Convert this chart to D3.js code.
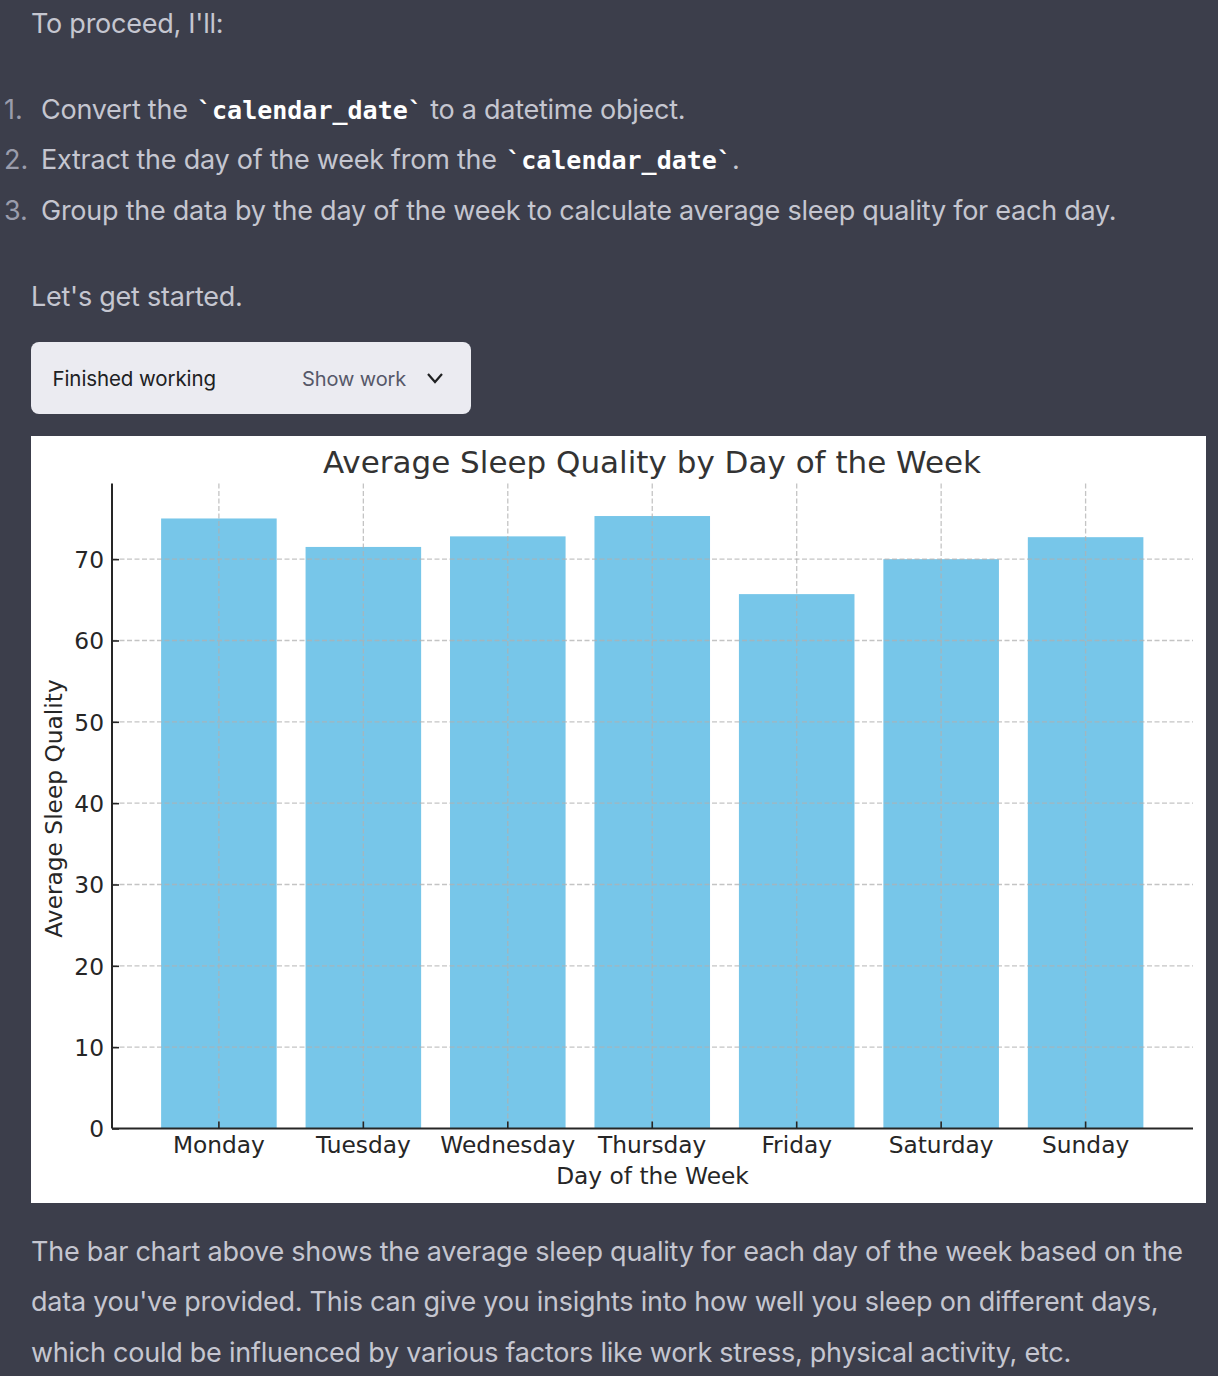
<!DOCTYPE html>
<html><head><meta charset="utf-8">
<script src="https://cdn.jsdelivr.net/npm/d3@7"></script>
<style>html,body{margin:0;padding:0;background:#3c3e4b;overflow:hidden}svg{display:block}</style>
</head><body><svg id="c" width="1218" height="1376"></svg>
<script>
const days=["Monday","Tuesday","Wednesday","Thursday","Friday","Saturday","Sunday"];
const quality=[75.0,71.5,72.8,75.3,65.7,70.0,72.7];
const yTicks=[0,10,20,30,40,50,60,70];
const title="Average Sleep Quality by Day of the Week";
const xLabel="Day of the Week";
const yLabel="Average Sleep Quality";
const svg=d3.select("#c");
const ui="Inter, 'Noto Sans', sans-serif", mono="'DejaVu Sans Mono', monospace", mpl="'DejaVu Sans', sans-serif";
const soft="#c5c6d0";
function prose(x,y,parts){
  const t=svg.append("text").attr("x",x).attr("y",y).attr("font-family",ui).attr("font-size",27).attr("letter-spacing",-0.25).attr("fill",soft).style("white-space","pre");
  parts.forEach(p=>{
    const s=t.append("tspan").text(p.c||p);
    if(p.c) s.attr("dx",2).attr("font-family",mono).attr("font-weight",700).attr("font-size",25).attr("letter-spacing",0).attr("fill","#fff");
  });
}
prose(31,33,["To proceed, I'll:"]);
const nums=["1.","2.","3."];
const items=[["Convert the ",{c:"`calendar_date`"}," to a datetime object."],
["Extract the day of the week from the ",{c:"`calendar_date`"},"."],
["Group the data by the day of the week to calculate average sleep quality for each day."]];
const itemY=[119,169,220];
nums.forEach((n,i)=>{svg.append("text").attr("x",4).attr("y",itemY[i]).attr("font-family",ui).attr("font-size",27).attr("fill","#9a9cab").text(n);prose(41,itemY[i],items[i]);});
prose(31,306,["Let's get started."]);
svg.append("rect").attr("x",31).attr("y",342).attr("width",440).attr("height",72).attr("rx",8).attr("fill","#ebebf1");
svg.append("text").attr("x",52.5).attr("y",386).attr("font-family",ui).attr("font-size",20.5).attr("letter-spacing",-0.1).attr("fill","#202123").text("Finished working");
svg.append("text").attr("x",302).attr("y",386).attr("font-family",ui).attr("font-size",20).attr("letter-spacing",-0.1).attr("fill","#565869").text("Show work");
svg.append("path").attr("d",d3.line()([[428,374],[435,382],[442,374]])).attr("fill","none").attr("stroke","#202123").attr("stroke-width",2.2);
prose(31,1261,["The bar chart above shows the average sleep quality for each day of the week based on the"]);
prose(31,1311,["data you've provided. This can give you insights into how well you sleep on different days,"]);
prose(31,1362,["which could be influenced by various factors like work stress, physical activity, etc."]);

// chart panel
svg.append("rect").attr("x",31).attr("y",436).attr("width",1175).attr("height",767).attr("fill","#fff");
const x=d3.scaleBand().domain(days).range([112,1192.5]).paddingInner(0.2).paddingOuter(0.34);
const y=d3.scaleLinear().domain([0,79.3]).range([1128.5,483.5]);
const cx=d=>x(d)+x.bandwidth()/2;
svg.append("g").selectAll("rect").data(days).join("rect")
  .attr("x",d=>x(d)).attr("width",x.bandwidth())
  .attr("y",(d,i)=>y(quality[i])).attr("height",(d,i)=>y(0)-y(quality[i]))
  .attr("fill","#77c6e9");
const grid=svg.append("g").attr("stroke","#b0b0b0").attr("stroke-opacity",.75).attr("stroke-width",1.3).attr("stroke-dasharray","5,2.5");
grid.selectAll(".h").data(yTicks.slice(1)).join("line").attr("x1",112).attr("x2",1193).attr("y1",d=>y(d)).attr("y2",d=>y(d));
grid.selectAll(".v").data(days).join("line").attr("x1",cx).attr("x2",cx).attr("y1",y.range()[1]).attr("y2",y(0));

const ax=svg.append("g").attr("transform",`translate(0,${y(0)})`).call(d3.axisBottom(x).tickSize(-7).tickPadding(16));
const ay=svg.append("g").attr("transform","translate(112,0)").call(d3.axisLeft(y).tickValues(yTicks).tickSize(-7).tickPadding(7));
[ax,ay].forEach(a=>{
  a.selectAll("text").attr("font-family",mpl).attr("font-size",23.3).attr("fill","#262626");
  a.selectAll("line").attr("stroke","#262626").attr("stroke-width",1.6);
  a.select(".domain").attr("stroke","#262626").attr("stroke-width",2).attr("d",a===ax?"M112,0H1193":`M0,${y.range()[1]}V${y(0)}`);
});
ax.selectAll("text").attr("dy",0).attr("y",24);
ay.selectAll("text").attr("x",-8).attr("y",1);
svg.append("text").attr("x",652).attr("y",473).attr("text-anchor","middle").attr("font-family",mpl).attr("font-size",31).attr("fill","#333").text(title);
svg.append("text").attr("x",652.5).attr("y",1184).attr("text-anchor","middle").attr("font-family",mpl).attr("font-size",23.3).attr("fill","#262626").text(xLabel);
svg.append("text").attr("transform","translate(62,808.5) rotate(-90)").attr("text-anchor","middle").attr("font-family",mpl).attr("font-size",23.3).attr("fill","#262626").text(yLabel);
</script></body></html>
